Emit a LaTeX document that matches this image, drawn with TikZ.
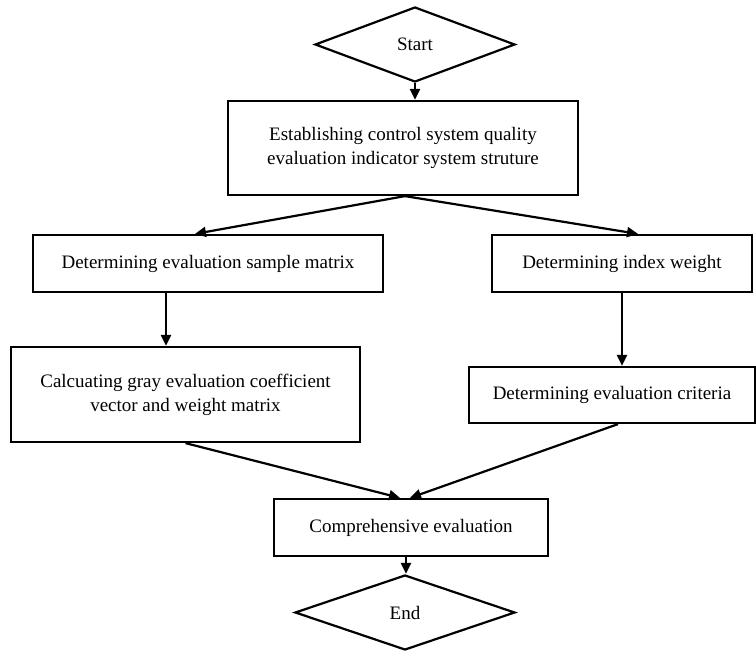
\documentclass[tikz,border=0pt]{standalone}
\usepackage{fontspec}
\setmainfont{Liberation Serif}
\usetikzlibrary{shapes.geometric,arrows.meta,calc}
\tikzset{
  procbox/.style={draw, line width=2.2pt, align=center, inner sep=0pt, font=\fontsize{19}{24}\selectfont},
  termdia/.style={draw, diamond, line width=2.2pt, inner sep=0pt, font=\fontsize{19}{24}\selectfont},
  arr/.style={line width=2.2pt, -{Triangle[length=11pt,width=10pt]}}
}
\begin{document}
\begin{tikzpicture}[x=1pt,y=-1pt]
\useasboundingbox (0,0) rectangle (756,651);
\node[termdia, minimum width=200pt, minimum height=75pt] (start) at (415,44.5) {Start};
\node[procbox, minimum width=350pt, minimum height=94pt] (b1) at (403,148) {Establishing control system quality\\evaluation indicator system struture};
\node[procbox, minimum width=350pt, minimum height=57pt] (b2) at (208,263.5) {Determining evaluation sample matrix};
\node[procbox, minimum width=260pt, minimum height=57pt] (b3) at (622,263.5) {Determining index weight};
\node[procbox, minimum width=349pt, minimum height=95pt] (b4) at (185.5,394.5) {Calcuating gray evaluation coefficient\\vector and weight matrix};
\node[procbox, minimum width=286pt, minimum height=56pt] (b5) at (612,395) {Determining evaluation criteria};
\node[procbox, minimum width=274pt, minimum height=57pt] (b6) at (411,527.5) {Comprehensive evaluation};
\node[termdia, minimum width=220pt, minimum height=75pt] (end) at (405,612.5) {End};
\draw[arr] (start.south) -- (start.south |- b1.north);
\draw[arr] ([xshift=2pt]b1.south) -- ([xshift=-13pt]b2.north);
\draw[arr] ([xshift=2pt]b1.south) -- ([xshift=16pt]b3.north);
\draw[arr] ([xshift=-42pt]b2.south) -- ([xshift=-42pt]b2.south |- b4.north);
\draw[arr] (b3.south) -- (b3.south |- b5.north);
\draw[arr] (b4.south) -- ([xshift=-11pt]b6.north);
\draw[arr] ([xshift=6pt]b5.south) -- ([xshift=-1pt]b6.north);
\draw[arr] ([xshift=-5pt]b6.south) -- ([xshift=1pt]end.north);
\end{tikzpicture}
\end{document}
